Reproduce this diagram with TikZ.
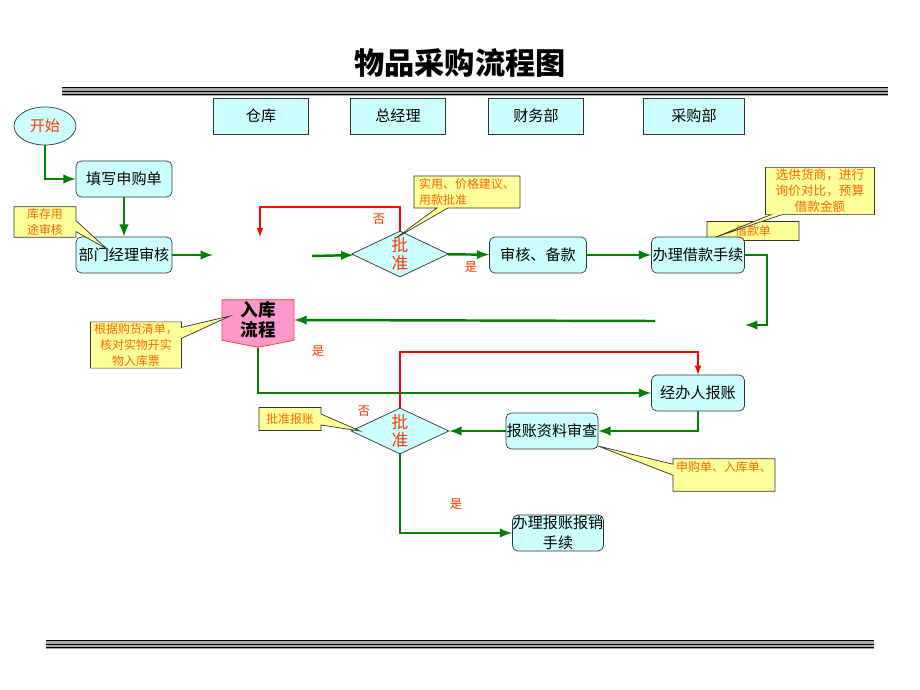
\documentclass[tikz,border=0pt]{standalone}
\usepackage{fontspec}
\setmainfont{Noto Sans CJK SC}
\usetikzlibrary{shapes.geometric,shapes.callouts,shapes.symbols}
\definecolor{boxfill}{HTML}{CCFFFF}
\definecolor{notefill}{HTML}{FFFF99}
\definecolor{notetext}{HTML}{FF6600}
\definecolor{marktext}{HTML}{FF3300}
\definecolor{flowgreen}{HTML}{008000}
\definecolor{stockfill}{HTML}{FF99CC}
\definecolor{rulegray}{HTML}{A8A8A8}
\begin{document}
\begin{tikzpicture}[x=0.02cm,y=-0.02cm]
	\tikzstyle{head}=[rectangle,draw=black!80,fill=boxfill,minimum width=1.9cm,minimum height=0.72cm,inner sep=0,font=\fontsize{8.6}{10}\selectfont]
	\tikzstyle{proc}=[rectangle,rounded corners=3pt,draw=black!80,fill=boxfill,minimum width=1.92cm,minimum height=0.72cm,inner sep=0,align=center,font=\fontsize{8.6}{10.5}\selectfont]
	\tikzstyle{check}=[diamond,aspect=2,draw=black!80,fill=boxfill,minimum width=1.94cm,minimum height=0.92cm,inner sep=0,align=center,text=marktext,font=\fontsize{9.5}{10.2}\selectfont]
	\tikzstyle{note}=[rectangle callout,draw=black!80,fill=notefill,text=notetext,align=center,inner sep=1pt,callout pointer width=0.22cm,font=\fontsize{6.8}{9}\selectfont]
	\tikzstyle{yesno}=[text=marktext,font=\fontsize{7}{8}\selectfont]
	\tikzstyle{flow}=[-latex,flowgreen,line width=1.4pt]
	\tikzstyle{retn}=[-latex,red,line width=0.8pt]
	\useasboundingbox (0,0) rectangle (920,690);

	% title and rules
	\node (title) at (460,63) {\fontsize{17.2}{20}\selectfont\bfseries 物品采购流程图};
	\fill[rulegray] (62,87) rectangle (888,95.5);
	\foreach \y in {87.8,91.3,94.8} \draw[black,line width=0.6pt] (62,\y) -- (888,\y);
	\fill[rulegray] (46,640) rectangle (874,648.5);
	\foreach \y in {640.8,644.3,647.8} \draw[black,line width=0.6pt] (46,\y) -- (874,\y);

	% departments
	\node [head] (h1) at (261,116) {仓库};
	\node [head] (h2) at (398,116) {总经理};
	\node [head] (h3) at (536,116) {财务部};
	\node [head,minimum width=2.02cm] (h4) at (694,116) {采购部};

	% hidden note behind loan box
	\coordinate (p4) at (722,252);
	\node [note,minimum width=1.84cm,minimum height=0.38cm,callout absolute pointer={(p4)}] (c4) at (753,231) {借款单};

	% steps
	\node [ellipse,draw=black!80,fill=boxfill,minimum width=1.24cm,minimum height=0.76cm,inner sep=0,text=marktext,font=\fontsize{8.6}{10}\selectfont] (start) at (45,126) {开始};
	\node [proc] (fill) at (124,179) {填写申购单};
	\node [proc] (mgr) at (124,255) {部门经理审核};
	\node [check] (ok1) at (400,254) {批\\准};
	\node [proc,minimum width=1.94cm] (chk) at (538,255) {审核、备款};
	\node [proc,minimum width=1.86cm] (loan) at (698,255) {办理借款手续};
	\node [signal,signal to=south,signal pointer angle=158,draw=red!80,fill=stockfill,minimum width=1.44cm,minimum height=0.88cm,inner sep=0,align=center,font=\fontsize{10}{11.3}\selectfont\bfseries] (stock) at (258,320) {入库\\流程};
	\node [proc,minimum width=1.86cm] (payer) at (698,393) {经办人报账};
	\node [proc,minimum width=1.84cm] (review) at (552,431) {报账资料审查};
	\node [check,minimum width=1.96cm] (ok2) at (400,431) {批\\准};
	\node [proc,minimum width=1.82cm,font=\fontsize{8.6}{11.5}\selectfont] (final) at (558,533) {办理报账报销\\手续};

	% loose ends
	\coordinate (g1) at (213,255);
	\coordinate (g2) at (312,256);
	\coordinate (g3) at (745,325);
	\coordinate (g4) at (655,321);
	\coordinate (r1t) at (260,207);
	\coordinate (r1) at (260,237);
	\coordinate (r2) at (698,352);

	% flows
	\draw[flow] (start) |- (fill);
	\draw[flow] (fill) -- (mgr);
	\draw[flow] (mgr) -- (g1);
	\draw[flow] (g2) -- (ok1);
	\draw[retn] (ok1.north) |- (r1t) -- (r1);
	\draw[flow] (ok1) -- (chk);
	\draw[flow] (chk) -- (loan);
	\draw[flow] (loan.east) -- ++(22,0) |- (g3);
	\draw[flow] (g4) -- (stock.east);
	\draw[flow] (stock.south) |- (payer);
	\draw[flow] (payer.south) |- (review);
	\draw[flow] (review) -- (ok2);
	\draw[retn] (ok2.north) |- (r2) -- (payer.north);
	\draw[flow] (ok2.south) |- (final);

	\node [yesno] (n1) at (379,219) {否};
	\node [yesno] (y1) at (471,267) {是};
	\node [yesno] (y2) at (318,351) {是};
	\node [yesno] (n2) at (364,411) {否};
	\node [yesno] (y3) at (456,504) {是};

	% notes
	\coordinate (p1) at (107,249);
	\coordinate (p2) at (396,238);
	\coordinate (p3) at (716,237);
	\coordinate (p5) at (230,316);
	\coordinate (p6) at (360,431);
	\coordinate (p7) at (598,446);
	\node [note,minimum width=1.24cm,minimum height=0.6cm,callout absolute pointer={(p1)}] (c1) at (45,222) {库存用\\途审核};
	\node [note,align=left,minimum width=2.12cm,minimum height=0.64cm,callout absolute pointer={(p2)}] (c2) at (467,192) {实用、价格建议、\\用款批准};
	\node [note,minimum width=2.18cm,minimum height=0.92cm,font=\fontsize{7.2}{9.1}\selectfont,callout absolute pointer={(p3)}] (c3) at (820,191) {选供货商，进行\\询价对比，预算\\借款金额};
	\node [note,minimum width=1.82cm,minimum height=0.92cm,callout absolute pointer={(p5)}] (c5) at (136,345) {根据购货清单，\\核对实物开实\\物入库票};
	\node [note,minimum width=1.24cm,minimum height=0.46cm,callout absolute pointer={(p6)}] (c6) at (290,419) {批准报账};
	\node [note,minimum width=2.04cm,text height=6pt,text depth=10.5pt,callout absolute pointer={(p7)}] (c7) at (724,475) {申购单、入库单、};
\end{tikzpicture}
\end{document}
